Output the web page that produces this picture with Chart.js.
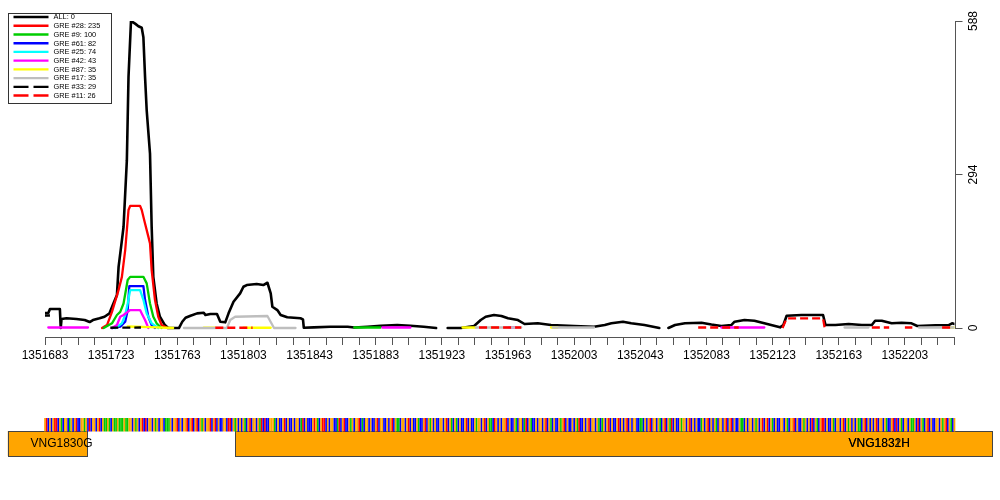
<!DOCTYPE html>
<html>
<head>
<meta charset="utf-8">
<script src="https://cdn.jsdelivr.net/npm/chart.js@4/dist/chart.umd.min.js"></script>
<style>
  html, body { margin: 0; padding: 0; background: #fff; }
  canvas { display: block; }
</style>
</head>
<body>
<canvas id="c" width="1000" height="500"></canvas>
<script>
// ---------------- data ----------------
const xMin = 1351683, xMax = 1352233;
const xTickStep = 10, xLabelStep = 40;
const yTicks = [0, 294, 588];

const seriesLabels = ['ALL: 0', 'GRE #28: 235', 'GRE #9: 100', 'GRE #61: 82', 'GRE #25: 74',
  'GRE #42: 43', 'GRE #87: 35', 'GRE #17: 35', 'GRE #33: 29', 'GRE #11: 26'];
const seriesColors = ['#000000', '#FF0000', '#00CD00', '#0000FF', '#00FFFF',
  '#FF00FF', '#FFFF00', '#BEBEBE', '#000000', '#FF0000'];
const seriesDashed = [false, false, false, false, false, false, false, false, true, true];

const allPts = [[1351683,28.7],[1351685,28.7],[1351686,36.4],[1351692,36.4],[1351692.5,0],[1351693,17.2],[1351696,18.6],[1351702,17.2],[1351707,15.3],[1351710,11.5],[1351712,15.3],[1351716,18.6],[1351719,21.6],[1351722,28.1],[1351724,44],[1351726.5,63],[1351727.5,117],[1351729.5,168],[1351730.5,194],[1351732.5,321],[1351733.5,481],[1351735,588],[1351736,586],[1351737.5,583],[1351739.5,578],[1351741.5,575],[1351742.5,557],[1351743.5,481],[1351744.5,417],[1351746.5,334],[1351747.5,194],[1351748.5,98],[1351750.5,47],[1351752.5,21.6],[1351755.5,5.7],[1351757.5,0],[1351764,0],[1351766,12],[1351768,19.7],[1351771,23.5],[1351775,28.1],[1351779,29.3],[1351780,24.9],[1351783,26.8],[1351787,26.8],[1351789,12.1],[1351792,10.9],[1351794,28.1],[1351797,50.3],[1351801,66.4],[1351803,79],[1351805,82.3],[1351811,84.2],[1351815,82.3],[1351817.5,86.7],[1351819.5,66.4],[1351820.5,40.8],[1351823.5,34.4],[1351825.5,24.9],[1351829.5,20.5],[1351837.5,18.6],[1351839,16.6],[1351839.5,0.6],[1351845.5,1.3],[1351855.5,2.5],[1351866,2.5],[1351870,1],[1351878,2.5],[1351886,4.4],[1351896,5.7],[1351904,4.4],[1351912,2.5],[1351919.5,0],[1351923,null],[1351926.5,0],[1351934.5,0],[1351942.5,3.8],[1351946.5,15.3],[1351949.5,21.6],[1351954.5,24.9],[1351959,23],[1351963,18.6],[1351969,15.3],[1351973,7.7],[1351981,9],[1351989,5.7],[1352003,3.8],[1352015,2.5],[1352021.5,5.7],[1352025.5,9],[1352032.5,12.1],[1352037.5,9],[1352045.5,5.7],[1352054.5,0],[1352057,null],[1352060,0],[1352064,5.7],[1352070,9],[1352080,10.1],[1352086,6.7],[1352092,3.8],[1352098,5.7],[1352100,12.1],[1352106,15.3],[1352112,14],[1352118,9],[1352124.5,3.8],[1352127.5,1.3],[1352129.5,5.7],[1352131.5,23.5],[1352140.5,24.9],[1352153.5,24.9],[1352155,5.7],[1352161,5.7],[1352169,7.7],[1352177,5.7],[1352183,5.7],[1352185,14],[1352189,14],[1352195,9],[1352201,10.1],[1352207,9],[1352210.5,3.8],[1352221.5,5.2],[1352229.5,5.7],[1352231.5,9],[1352233,7.7]];
const gre28Pts = [[1351717.5,0],[1351720.5,5.7],[1351723.5,31],[1351727.5,73],[1351729.5,98],[1351731.5,149],[1351733.5,226],[1351734.5,234],[1351740.5,234],[1351741.5,226],[1351743.5,200],[1351745.5,175],[1351746.5,162],[1351747.5,111],[1351749.5,54],[1351751.5,21.6],[1351753.5,5.7],[1351757,0]];
const gre9Pts = [[1351718.5,0],[1351723.5,9],[1351726.5,25],[1351728.5,31],[1351730.5,47],[1351733,92],[1351734.5,98],[1351742.5,98],[1351744.5,85.5],[1351746.5,47],[1351748.5,21.6],[1351750.5,9],[1351753.5,0],[1351760,null],[1351870,1],[1351886,1]];
const gre61Pts = [[1351723.5,0],[1351728.5,2.5],[1351731.5,12],[1351733,34],[1351734,80.4],[1351742.5,80.4],[1351743.5,54],[1351745.5,21.6],[1351747.5,5.7],[1351749.5,0]];
const gre25Pts = [[1351725.5,0],[1351729.5,9],[1351731.5,25],[1351733,47],[1351734.5,72.7],[1351740.5,72.7],[1351742.5,54],[1351744.5,28],[1351747.5,9],[1351751.5,0]];
const gre42Pts = [[1351685,1],[1351709,1],[1351715,null],[1351723.5,0],[1351726.5,5.7],[1351728.5,21.6],[1351730.5,25],[1351733,31],[1351734.5,34.4],[1351740.5,34.4],[1351741.5,28],[1351743.5,15.3],[1351745.5,0],[1351800,null],[1351887,1],[1351904,1],[1351930,null],[1351963.5,1],[1351968,1],[1352000,null],[1352092,1],[1352118,1]];
const gre87Pts = [[1351733,2.9],[1351746.5,1.9],[1351760.5,0],[1351770,null],[1351779,0.5],[1351786,0.5],[1351795,null],[1351803,0.5],[1351819.5,0.5],[1351930,null],[1351935.5,1],[1351943.5,1],[1351948,null],[1351952.5,1],[1351957,1],[1351970,null],[1351989,1],[1351993,1],[1352100,null],[1352228.5,1],[1352233,1]];
const gre17Pts = [[1351767,0],[1351793,0],[1351795,15.3],[1351798,21.6],[1351817.5,23],[1351821.5,0],[1351834.5,0],[1351840,null],[1351943.5,1],[1351971,1],[1351980,null],[1351990,1],[1352015,1],[1352100,null],[1352166.5,1],[1352181,1],[1352195,null],[1352211.5,1],[1352233,1]];
const gre33Pts = [[1351683,24],[1351686,24],[1351700,null],[1351722.5,0.5],[1351741,1]];
const gre11Pts = [[1351786,0.5],[1351808.5,0.5],[1351900,null],[1351945.5,1],[1351971,1],[1352000,null],[1352078,1],[1352102.5,1],[1352115,null],[1352129,0],[1352131.5,18.6],[1352153.5,18.6],[1352154.5,0],[1352165,null],[1352183,1],[1352193.5,1],[1352198,null],[1352203,1],[1352207.5,1],[1352215,null],[1352225.5,1],[1352231.5,1]];
const seriesPoints = [allPts, gre28Pts, gre9Pts, gre61Pts, gre25Pts, gre42Pts, gre87Pts, gre17Pts, gre33Pts, gre11Pts];

// gene track
const geneNames = ['VNG1830G', 'VNG1831H', 'VNG1832H'];
const geneStart = [1351660.5, 1351798, 1351798];
const geneEnd = [1351708.5, 1352256, 1352256];
const geneLabelAt = [1351693, 1352187.5, 1352187.5];

// sequence strip
const seqStart = 1351683;
const sequence = [
 'GTCGCGTTCG','ACGGCAGCGT','CCGGAGCTCG','GCGTCGAAGA','CGAAGAAAGA',
 'AGGCGAGCGT','CTCGGCGAGC','GGCAAAGCGG','TCGCGGTCGT','CGTCGAGCGG',
 'TCGTCGCCGG','CTTCGAGCGC','GACGTCGGCG','ATCTCCGGGA','CGCCGTCGCC',
 'GCGGCATCGC','CCGTGACGTT','CGCGGCCATC','GTCCGAGCGG','TCACGGCGCC',
 'GTCGGCCGCG','TCGAACGGCG','TCGCCGACCG','TCGAGCGCCG','GCGTCGACGA',
 'CGCCGTCGCC','GAGGCGTCGA','ACTGCGCGGT','CGCCGACGGC','ATCGACCGCG',
 'GCGTCGACGC','CGAGTCGCCG','CGATCCGCGT','CGGCGACAGC','GTCGCCGTCG',
 'CGTCGCGGCC','AACGCGTCGG','CGACGTCGAT','CGCCGAGGCG','TCGCGCCAGC',
 'GTCGCGACGG','CGTCGTCGCC','GAACGCGGCG','AGCGTCGTCG','ACGCCGGCGA',
 'CGGTCGCCGA','GCGCTCGACG','TTCGCCGACG','GCGTCGAGCG','CGAACGTCGC',
 'GCGTCGGCGA','CCGTCTCGAC','GGCGAAGCTC','GACGTCGCCG','GCGAGTCGAC','G'
].join('');
const baseColors = { A: '#00C800', C: '#0000FF', G: '#FFA500', T: '#FF0000' };

// ---------------- chart ----------------
Chart.defaults.font.family = "'Liberation Sans', Arial, Helvetica, sans-serif";
Chart.defaults.color = '#000';

const datasets = seriesLabels.map((lab, i) => ({
  label: lab,
  data: seriesPoints[i].map(p => ({ x: p[0], y: p[1] })),
  borderColor: seriesColors[i],
  backgroundColor: seriesColors[i],
  borderWidth: i === 0 ? 2.6 : 2.3,
  borderDash: seriesDashed[i] ? [8, 4] : [],
  borderCapStyle: seriesDashed[i] ? 'butt' : 'round',
  borderJoinStyle: 'round',
  pointRadius: 0,
  tension: 0,
  spanGaps: false,
  fill: false,
  order: seriesLabels.length - i
}));

const trackPlugin = {
  id: 'track',
  afterDraw(chart) {
    const ctx = chart.ctx;
    const xs = chart.scales.x, ys = chart.scales.y;
    const area = chart.chartArea;
    ctx.save();
    // right y axis line (from first to last tick)
    ctx.strokeStyle = '#555';
    ctx.lineWidth = 1;
    ctx.setLineDash([]);
    ctx.beginPath();
    const ax = Math.round(area.right) + 0.5;
    ctx.moveTo(ax, ys.getPixelForValue(yTicks[0]));
    ctx.lineTo(ax, ys.getPixelForValue(yTicks[yTicks.length - 1]));
    ctx.stroke();

    // legend
    const lx = 8.5, ly = 13.5, lw = 103, lh = 90;
    ctx.fillStyle = '#fff';
    ctx.fillRect(lx, ly, lw, lh);
    ctx.strokeStyle = '#333';
    ctx.lineWidth = 1;
    ctx.strokeRect(lx, ly, lw, lh);
    ctx.font = "7.4px 'Liberation Sans', Arial, sans-serif";
    ctx.textBaseline = 'middle';
    ctx.textAlign = 'left';
    chart.data.datasets.forEach((ds, i) => {
      const y = 17 + i * 8.73;
      ctx.strokeStyle = ds.borderColor;
      ctx.lineWidth = 2.4;
      ctx.setLineDash(seriesDashed[i] ? [15, 5] : []);
      ctx.beginPath();
      ctx.moveTo(13.5, y);
      ctx.lineTo(48.5, y);
      ctx.stroke();
      ctx.setLineDash([]);
      ctx.fillStyle = '#000';
      ctx.fillText(ds.label, 53.5, y + 0.3);
    });

    // gene boxes
    const boxTop = 431, boxBot = 456;
    geneNames.forEach((g, i) => {
      const x0 = xs.getPixelForValue(geneStart[i]);
      const x1 = xs.getPixelForValue(geneEnd[i]);
      ctx.fillStyle = '#FFA500';
      ctx.fillRect(x0, boxTop, x1 - x0, boxBot - boxTop);
      ctx.strokeStyle = '#444';
      ctx.lineWidth = 1;
      ctx.strokeRect(Math.round(x0) + 0.5, boxTop + 0.5, Math.round(x1 - x0), boxBot - boxTop);
    });
    // sequence strip
    const sTop = 418, sBot = 431.5;
    for (let i = 0; i < sequence.length; i++) {
      const v = seqStart + i;
      if (v > xMax) break;
      const a = xs.getPixelForValue(v - 0.5);
      const b = xs.getPixelForValue(v + 0.5);
      ctx.fillStyle = baseColors[sequence[i]];
      ctx.fillRect(a, sTop, b - a, sBot - sTop);
    }
    // gene labels
    ctx.font = "12px 'Liberation Sans', Arial, sans-serif";
    ctx.fillStyle = '#000';
    ctx.textAlign = 'center';
    ctx.textBaseline = 'middle';
    geneNames.forEach((g, i) => {
      ctx.fillText(g, xs.getPixelForValue(geneLabelAt[i]), 443.5);
    });
    ctx.restore();
  }
};

new Chart(document.getElementById('c'), {
  type: 'line',
  data: { datasets },
  options: {
    responsive: false,
    animation: false,
    devicePixelRatio: 1,
    layout: { padding: { left: 45, top: 21, right: 0, bottom: 0 } },
    plugins: { legend: { display: false }, tooltip: { enabled: false } },
    scales: {
      x: {
        type: 'linear',
        min: xMin,
        max: xMax,
        afterBuildTicks: (s) => {
          const t = [];
          for (let v = xMin; v <= xMax; v += xTickStep) t.push({ value: v });
          s.ticks = t;
        },
        afterFit: (s) => { s.height = 163; },
        ticks: {
          autoSkip: false,
          maxRotation: 0,
          minRotation: 0,
          padding: 3,
          color: '#000',
          font: { size: 12 },
          callback: (v) => ((v - xMin) % xLabelStep === 0 ? String(v) : '')
        },
        grid: { drawOnChartArea: false, drawTicks: true, tickLength: 8, color: '#555', lineWidth: 1 },
        border: { display: true, color: '#555', width: 1 }
      },
      y: {
        type: 'linear',
        position: 'right',
        min: -17.2,
        max: 588,
        afterBuildTicks: (s) => { s.ticks = yTicks.map(v => ({ value: v })); },
        afterFit: (s) => { s.width = 45.5; },
        ticks: {
          minRotation: 90,
          maxRotation: 90,
          crossAlign: 'center',
          padding: 1,
          color: '#000',
          font: { size: 12 },
          callback: (v) => String(v)
        },
        grid: { drawOnChartArea: false, drawTicks: true, tickLength: 8, color: '#555', lineWidth: 1 },
        border: { display: false }
      }
    }
  },
  plugins: [trackPlugin]
});
</script>
</body>
</html>
